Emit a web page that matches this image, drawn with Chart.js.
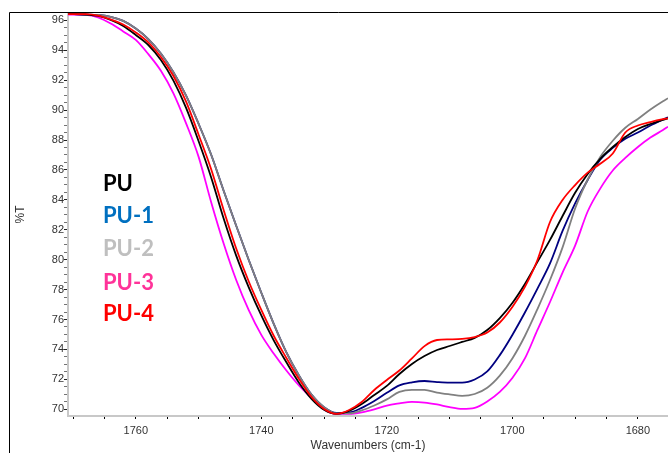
<!DOCTYPE html>
<html>
<head>
<meta charset="utf-8">
<title>FTIR PU</title>
<script src="https://cdn.jsdelivr.net/npm/chart.js@4.4.1/dist/chart.umd.min.js"></script>
<style>
    html, body { margin: 0; padding: 0; background: #ffffff; }
    #wrap { position: relative; width: 668px; height: 453px; overflow: hidden; }
    .sample-label {
        position: absolute;
        left: 103px;
        font: bold 22px Lato, sans-serif;
        line-height: 1;
        transform: translateY(-50%);
        white-space: nowrap;
    }
</style>
</head>
<body>
<div id="wrap">
    <canvas id="spectrumChart"></canvas>
</div>
<script>
// wavenumber grid (cm-1)
const wavenumbers = [1770.8, 1768, 1766, 1764, 1762, 1760, 1758, 1756, 1754, 1752, 1750, 1748, 1746, 1744, 1742, 1740,
    1738, 1736, 1734, 1732, 1730, 1728, 1726, 1724, 1722, 1720, 1718, 1716, 1714, 1712, 1710, 1708, 1706, 1704, 1702, 1700,
    1698, 1696, 1694, 1692, 1690, 1688, 1686, 1684, 1682, 1680, 1678, 1676, 1675.2];

// %T per sample
const pu = [96.42, 96.39, 96.29, 96.02, 95.62, 95.02, 94.35, 93.35, 91.97, 90.16, 87.93, 85.51, 82.75, 80.27, 78.15, 76.27,
    74.59, 73.14, 71.78, 70.70, 69.97, 69.69, 69.89, 70.35, 70.96, 71.56, 72.36, 73.03, 73.56, 73.96, 74.23, 74.50, 74.77,
    75.30, 76.10, 77.11, 78.38, 79.85, 81.32, 82.92, 84.47, 85.73, 86.74, 87.53, 88.20, 88.74, 89.07, 89.34, 89.45];
const pu1 = [96.42, 96.39, 96.36, 96.23, 95.96, 95.45, 94.75, 93.78, 92.53, 90.98, 89.09, 87.03, 84.61, 82.27, 79.98, 77.79,
    75.69, 73.80, 72.26, 70.98, 70.14, 69.76, 69.78, 70.09, 70.55, 71.10, 71.60, 71.80, 71.89, 71.82, 71.78, 71.78, 71.99,
    72.53, 73.62, 74.97, 76.47, 78.07, 79.75, 81.92, 83.76, 85.33, 86.68, 87.47, 88.08, 88.50, 88.97, 89.37, 89.52];
const pu2 = [96.42, 96.39, 96.36, 96.23, 95.96, 95.45, 94.75, 93.78, 92.53, 90.98, 89.09, 87.03, 84.61, 82.27, 79.98, 77.79,
    75.69, 73.80, 72.26, 70.98, 70.14, 69.72, 69.72, 69.92, 70.25, 70.66, 71.16, 71.30, 71.29, 71.12, 71.00, 70.90, 71.02,
    71.44, 72.25, 73.40, 74.90, 76.70, 78.64, 80.82, 83.42, 85.36, 86.87, 87.95, 88.82, 89.41, 90.04, 90.59, 90.79];
const pu3 = [96.39, 96.36, 96.19, 95.79, 95.26, 94.69, 93.74, 92.63, 91.12, 89.13, 86.89, 83.86, 81.08, 78.64, 76.62, 74.97,
    73.71, 72.59, 71.59, 70.76, 69.99, 69.69, 69.69, 69.79, 69.99, 70.25, 70.39, 70.49, 70.45, 70.32, 70.14, 70.02, 70.09,
    70.52, 71.16, 72.09, 73.40, 75.30, 77.17, 79.14, 80.94, 83.22, 84.75, 85.96, 86.80, 87.53, 88.16, 88.67, 88.89];
const pu4 = [96.42, 96.42, 96.32, 96.06, 95.72, 95.19, 94.52, 93.55, 92.28, 90.58, 88.37, 86.06, 83.32, 80.75, 78.54, 76.64,
    74.90, 73.43, 72.03, 70.82, 70.02, 69.69, 69.95, 70.49, 71.29, 71.96, 72.59, 73.40, 74.22, 74.63, 74.67, 74.70, 74.83,
    75.13, 75.80, 76.84, 78.18, 79.98, 82.52, 83.99, 84.99, 85.82, 86.41, 87.10, 88.50, 88.97, 89.20, 89.39, 89.45];

const sampleNames = ['PU', 'PU-1', 'PU-2', 'PU-3', 'PU-4'];
const lineColors = ['#000000', '#000080', '#808080', '#ff00ff', '#ff0000'];
const labelColors = ['#000000', '#0070c0', '#bfbfbf', '#ff3399', '#ff0000'];
const labelTops = [183, 215, 248, 282, 313];
const drawOrder = [1, 3, 2, 4, 0]; // lower = drawn on top

class SpectrumChart {
    constructor() {
        this.series = [pu, pu1, pu2, pu3, pu4];
        this.chart = null;
        this.init();
    }

    init() {
        this.createChart();
        this.addSampleLabels();
    }

    buildDatasets() {
        return this.series.map((values, i) => ({
            label: sampleNames[i],
            data: values.map((v, j) => ({ x: wavenumbers[j], y: v })),
            borderColor: lineColors[i],
            borderWidth: 1.8,
            pointRadius: 0,
            cubicInterpolationMode: 'monotone',
            fill: false,
            order: drawOrder[i]
        }));
    }

    createChart() {
        const ctx = document.getElementById('spectrumChart').getContext('2d');
        const tickFont = { family: 'Liberation Sans, Arial, sans-serif', size: 11 };

        // outer frame of the exported figure (only top and left edges are in view)
        const framePlugin = {
            id: 'frame',
            afterDraw(chart) {
                const c = chart.ctx;
                c.save();
                c.strokeStyle = '#000000';
                c.lineWidth = 1;
                c.beginPath();
                c.moveTo(9.5, 453);
                c.lineTo(9.5, 12.5);
                c.lineTo(668, 12.5);
                c.stroke();
                c.restore();
            }
        };

        this.chart = new Chart(ctx, {
            type: 'line',
            data: { datasets: this.buildDatasets() },
            options: {
                responsive: true,
                maintainAspectRatio: false,
                animation: false,
                layout: { padding: { top: 13, left: 0, right: 0, bottom: 0 } },
                plugins: {
                    legend: { display: false },
                    tooltip: { enabled: false }
                },
                scales: {
                    x: {
                        type: 'linear',
                        reverse: true,
                        min: 1675.2,
                        max: 1770.8,
                        afterFit: (s) => { s.height = 37; },
                        grid: { drawOnChartArea: false, tickLength: 3, tickColor: '#000000' },
                        border: { color: '#c8c8c8', width: 2 },
                        ticks: {
                            stepSize: 5,
                            includeBounds: false,
                            autoSkip: false,
                            maxRotation: 0,
                            padding: 5,
                            color: '#333333',
                            font: tickFont,
                            callback: (v) => (v % 20 === 0 ? v : '')
                        },
                        title: {
                            display: true,
                            text: 'Wavenumbers (cm-1)',
                            color: '#333333',
                            font: { family: 'Liberation Sans, Arial, sans-serif', size: 12 },
                            padding: { top: 0, bottom: 0 }
                        }
                    },
                    y: {
                        min: 69.55,
                        max: 96.49,
                        afterFit: (s) => { s.width = 68; },
                        grid: {
                            drawOnChartArea: false,
                            tickLength: 4,
                            tickColor: (c) => (c.tick && c.tick.value % 2 === 0 ? '#222222' : 'rgba(0,0,0,0.55)')
                        },
                        border: { color: '#c8c8c8', width: 2 },
                        ticks: {
                            stepSize: 0.5,
                            includeBounds: false,
                            autoSkip: false,
                            padding: 0,
                            color: '#333333',
                            font: tickFont,
                            callback: (v) => (v % 2 === 0 ? v : '')
                        },
                        title: {
                            display: true,
                            text: '%T',
                            color: '#333333',
                            font: { family: 'Liberation Sans, Arial, sans-serif', size: 12 },
                            padding: { top: 13, bottom: 0 }
                        }
                    }
                }
            },
            plugins: [framePlugin]
        });
    }

    addSampleLabels() {
        const wrap = document.getElementById('wrap');
        sampleNames.forEach((name, i) => {
            const el = document.createElement('div');
            el.className = 'sample-label';
            el.style.top = labelTops[i] + 'px';
            el.style.color = labelColors[i];
            el.textContent = name;
            wrap.appendChild(el);
        });
    }
}

document.addEventListener('DOMContentLoaded', () => {
    new SpectrumChart();
});
</script>
</body>
</html>
